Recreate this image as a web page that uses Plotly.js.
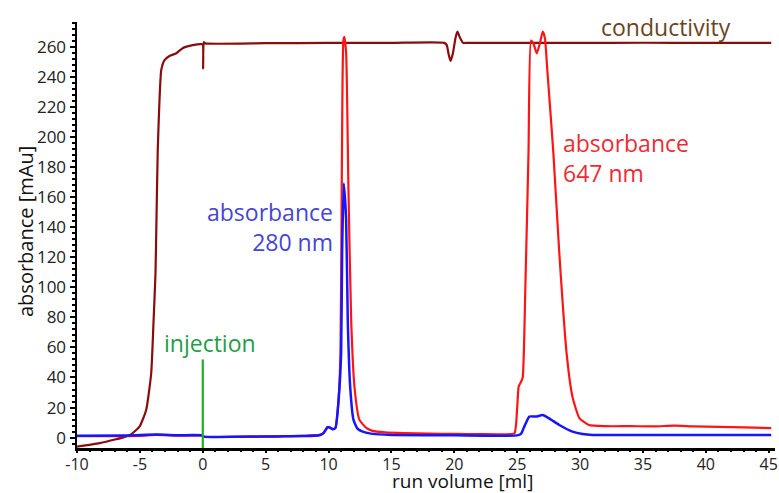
<!DOCTYPE html>
<html>
<head>
<meta charset="utf-8">
<script src="https://cdn.plot.ly/plotly-3.0.1.min.js"></script>
<style>html,body{margin:0;padding:0;background:#fff;}#chart{width:779px;height:493px;}</style>
</head>
<body>
<div id="chart"></div>
<script>
// conductivity trace
const condX = [-10, -8.2, -6.9, -6.2, -5.7, -5.03, -4.5, -4.1, -3.92, -3.76, -3.7, -3.58, -3.44, -3.3, -3.04, -2.65, -2.1, -1.6, -0.8, -0.13, 0.0, 0.03, 0.08, 0.2, 5, 10, 15, 19.2, 19.4, 19.55, 19.7, 19.9, 20.1, 20.25, 20.45, 20.7, 21, 25, 30, 35, 40, 45.2];
const condY = [-6, -3.7, -1.1, 0.5, 2.2, 7.3, 18.4, 42.8, 76, 109, 136, 191, 224.5, 244.5, 251, 253.8, 255.6, 259, 261, 261.7, 261.5, 245.5, 263, 262.2, 262.3, 262.5, 262.5, 262.5, 261, 255, 250.5, 256, 266, 270, 266, 262.5, 262.5, 262.5, 262.5, 262.6, 262.5, 262.5];

// absorbance 647 nm
const redX = [-10, -5, -3.7, -2, -0.05, 0.05, 3, 6, 8, 9.3, 9.6, 9.93, 10.15, 10.33, 10.55, 10.75, 10.95, 11.05, 11.18, 11.26, 11.4, 11.58, 11.8, 12.06, 12.45, 13.0, 13.5, 14.5, 16, 18, 20, 22, 24, 24.78, 25.0, 25.12, 25.3, 25.44, 25.65, 25.9, 26.1, 26.3, 26.55, 26.8, 27.03, 27.2, 27.4, 27.88, 28.35, 28.93, 29.4, 29.95, 30.7, 32, 34, 36, 37.5, 39, 41, 43, 45.2];
const redY = [1.0, 1.2, 1.8, 1.3, 1.2, 0.6, 0.6, 0.8, 1.2, 1.8, 3, 7, 6.5, 5.6, 6.5, 20, 56, 167, 264, 266.5, 255.6, 167, 78, 34, 12, 6.5, 4.5, 3.5, 3.0, 2.6, 2.5, 2.3, 2.2, 2.9, 20, 34, 37, 40, 100, 189, 264, 262, 255.6, 262, 270, 266, 244, 189, 122.6, 56, 27, 13, 8.4, 7.6, 7.6, 7.5, 8.0, 7.5, 7.2, 6.8, 6.3];

// absorbance 280 nm
const blueX = [-10, -6, -3.7, -2, -0.05, 0.05, 3, 6, 8, 9.27, 9.6, 9.93, 10.15, 10.33, 10.55, 10.8, 11.0, 11.08, 11.21, 11.4, 11.53, 11.72, 11.98, 12.3, 12.72, 13.5, 15, 20, 25, 25.3, 25.6, 25.97, 26.5, 27.03, 27.5, 28.35, 29.4, 30.2, 31, 35, 40, 45.2];
const blueY = [1.3, 1.4, 2.0, 1.6, 1.5, 0.7, 0.6, 0.8, 1.0, 1.6, 3, 7, 6.5, 5.6, 6.5, 25, 56, 122.6, 169, 144.7, 78, 34, 12, 6, 4, 2.5, 1.8, 1.5, 1.5, 2.5, 8, 14, 14, 15, 13, 8.4, 4, 2.4, 1.8, 1.8, 1.8, 1.8];

// injection marker
const injX = [0, 0];
const injY = [-7, 52];

const xTicks = [-10, -5, 0, 5, 10, 15, 20, 25, 30, 35, 40, 45];
const yTicks = [0, 20, 40, 60, 80, 100, 120, 140, 160, 180, 200, 220, 240, 260];

const FONT = "Open Sans, DejaVu Sans, sans-serif";
const SM = 0.5;
const PL = 77, PW = 698, PB = 448, PH = 426;
const px = v => (v - PL) / PW;
const py = v => (PB - v) / PH;

const traces = [
  {x: condX, y: condY, type: 'scatter', mode: 'lines', line: {color: '#8a0d0d', width: 2.2, shape: 'spline', smoothing: SM}, hoverinfo: 'skip'},
  {x: redX, y: redY, type: 'scatter', mode: 'lines', line: {color: '#ff1414', width: 2.2, shape: 'spline', smoothing: SM}, hoverinfo: 'skip'},
  {x: blueX, y: blueY, type: 'scatter', mode: 'lines', line: {color: '#1515ff', width: 2.5, shape: 'spline', smoothing: SM}, hoverinfo: 'skip'},
  {x: injX, y: injY, xaxis: 'x2', type: 'scatter', mode: 'lines', line: {color: '#1fae2c', width: 2.2}, hoverinfo: 'skip'}
];

const layout = {
  width: 779, height: 493,
  margin: {l: 77, r: 4, t: 22, b: 45},
  paper_bgcolor: '#ffffff', plot_bgcolor: '#ffffff',
  showlegend: false,
  font: {family: FONT, color: '#222222', size: 16},
  xaxis: {
    range: [-10, 45.5], tickvals: xTicks, ticktext: xTicks.map(String),
    showgrid: false, zeroline: false, showline: true, linecolor: '#000', linewidth: 2.5,
    ticks: '', 
    tickfont: {size: 16, family: FONT, color: '#222'}
  },
  xaxis2: {
    range: [-10, 45.5], overlaying: 'x', anchor: 'y', side: 'bottom', tickvals: xTicks,
    showgrid: false, zeroline: false, showline: false, showticklabels: false,
    ticks: 'outside', ticklen: 4, tickwidth: 2, tickcolor: '#000',
    minor: {dtick: 1, ticks: 'outside', ticklen: 2.5, tickwidth: 2, tickcolor: '#000', showgrid: false}
  },
  yaxis: {
    range: [-6.9, 276.4], tickvals: yTicks, ticktext: yTicks.map(String),
    showgrid: false, zeroline: false, showline: true, linecolor: '#000', linewidth: 2.5,
    ticks: 'outside', ticklen: 5, tickwidth: 2, tickcolor: '#000',
    minor: {dtick: 4, ticks: 'outside', ticklen: 2.5, tickwidth: 2, tickcolor: '#000', showgrid: false},
    tickfont: {size: 17, family: FONT, color: '#222'}
  },
  annotations: [
    {xref: 'paper', yref: 'paper', x: px(462), y: py(481), xanchor: 'center', yanchor: 'middle', text: 'run volume [ml]', showarrow: false, font: {size: 19, family: FONT, color: '#111'}},
    {xref: 'paper', yref: 'paper', x: px(25), y: py(232), xanchor: 'center', yanchor: 'middle', textangle: -90, text: 'absorbance [mAu]', showarrow: false, font: {size: 20, family: FONT, color: '#111'}},
    {xref: 'paper', yref: 'paper', x: px(733), y: py(27), xanchor: 'right', yanchor: 'middle', text: 'conductivity', showarrow: false, font: {size: 23, family: FONT, color: '#6b4423'}},
    {xref: 'paper', yref: 'paper', x: px(335), y: py(227), xanchor: 'right', yanchor: 'middle', align: 'right', text: 'absorbance<br>280 nm', showarrow: false, font: {size: 23, family: FONT, color: '#4545d6'}},
    {xref: 'paper', yref: 'paper', x: px(561), y: py(158), xanchor: 'left', yanchor: 'middle', align: 'left', text: 'absorbance<br>647 nm', showarrow: false, font: {size: 23, family: FONT, color: '#ee2b35'}},
    {xref: 'paper', yref: 'paper', x: px(210), y: py(343), xanchor: 'center', yanchor: 'middle', text: 'injection', showarrow: false, font: {size: 23, family: FONT, color: '#1f9e45'}}
  ]
};

Plotly.newPlot('chart', traces, layout, {staticPlot: true, displayModeBar: false});
</script>
</body>
</html>
